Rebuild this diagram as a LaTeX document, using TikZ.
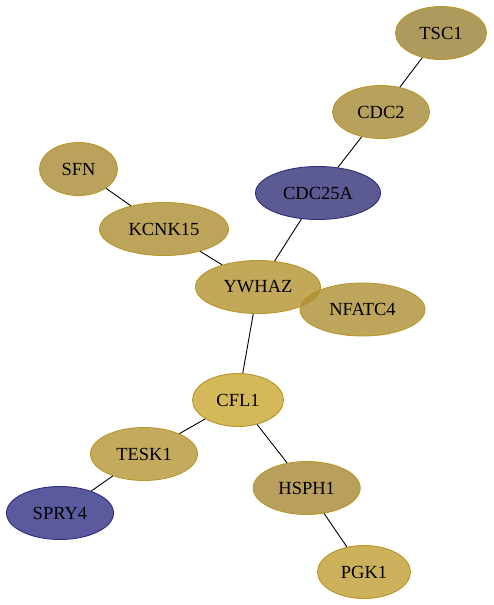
\documentclass[tikz,border=0pt]{standalone}
\usepackage{fontspec}
\setmainfont{Liberation Serif}
\usetikzlibrary{shapes.geometric}
\definecolor{goldline}{RGB}{184,150,42}
\definecolor{blueline}{RGB}{46,44,124}
\definecolor{cTSC}{RGB}{154,129,51}
\definecolor{cCDCtwo}{RGB}{166,137,51}
\definecolor{cCDCA}{RGB}{51,49,119}
\definecolor{cSFN}{RGB}{170,139,51}
\definecolor{cKCNK}{RGB}{172,141,50}
\definecolor{cYWHAZ}{RGB}{180,146,49}
\definecolor{cNFATC}{RGB}{174,142,51}
\definecolor{cCFL}{RGB}{201,166,49}
\definecolor{cTESK}{RGB}{181,149,51}
\definecolor{cSPRY}{RGB}{51,49,134}
\definecolor{cHSPH}{RGB}{166,135,54}
\definecolor{cPGK}{RGB}{191,156,49}
\begin{document}
\begin{tikzpicture}[x=1pt,y=-1pt,
  prot/.style={ellipse,draw=goldline,line width=0.9pt,fill opacity=0.8,text opacity=1,
    inner sep=0pt,minimum height=53pt,font=\fontsize{18.5}{20}\selectfont},
  blueprot/.style={prot,draw=blueline},
  link/.style={line width=0.9pt}]
\useasboundingbox (0,0) rectangle (493,605);
% proteins
\node[prot,fill=cTSC,minimum width=91pt] (TSC1) at (441,33) {TSC1};
\node[prot,fill=cCDCtwo,minimum width=97pt] (CDC2) at (381,112) {CDC2};
\node[blueprot,fill=cCDCA,minimum width=125pt] (CDC25A) at (318,193) {CDC25A};
\node[prot,fill=cSFN,minimum width=78pt] (SFN) at (78.5,169) {SFN};
\node[prot,fill=cKCNK,minimum width=129pt] (KCNK15) at (164,229) {KCNK15};
\node[prot,fill=cYWHAZ,minimum width=125pt] (YWHAZ) at (258,287) {YWHAZ};
\node[prot,fill=cNFATC,minimum width=125pt] (NFATC4) at (362.5,309.5) {NFATC4};
\node[prot,fill=cCFL,minimum width=91pt] (CFL1) at (238,400) {CFL1};
\node[prot,fill=cTESK,minimum width=107pt] (TESK1) at (144,454) {TESK1};
\node[blueprot,fill=cSPRY,minimum width=107pt] (SPRY4) at (60,513) {SPRY4};
\node[prot,fill=cHSPH,minimum width=107pt] (HSPH1) at (306.7,488) {HSPH1};
\node[prot,fill=cPGK,minimum width=93pt] (PGK1) at (364,572) {PGK1};
% links
\draw[link] (TSC1) -- (CDC2);
\draw[link] (CDC2) -- (CDC25A);
\draw[link] (CDC25A) -- (YWHAZ);
\draw[link] (SFN) -- (KCNK15);
\draw[link] (KCNK15) -- (YWHAZ);
\draw[link] (YWHAZ) -- (CFL1);
\draw[link] (CFL1) -- (TESK1);
\draw[link] (TESK1) -- (SPRY4);
\draw[link] (CFL1) -- (HSPH1);
\draw[link] (HSPH1) -- (PGK1);
\end{tikzpicture}
\end{document}
